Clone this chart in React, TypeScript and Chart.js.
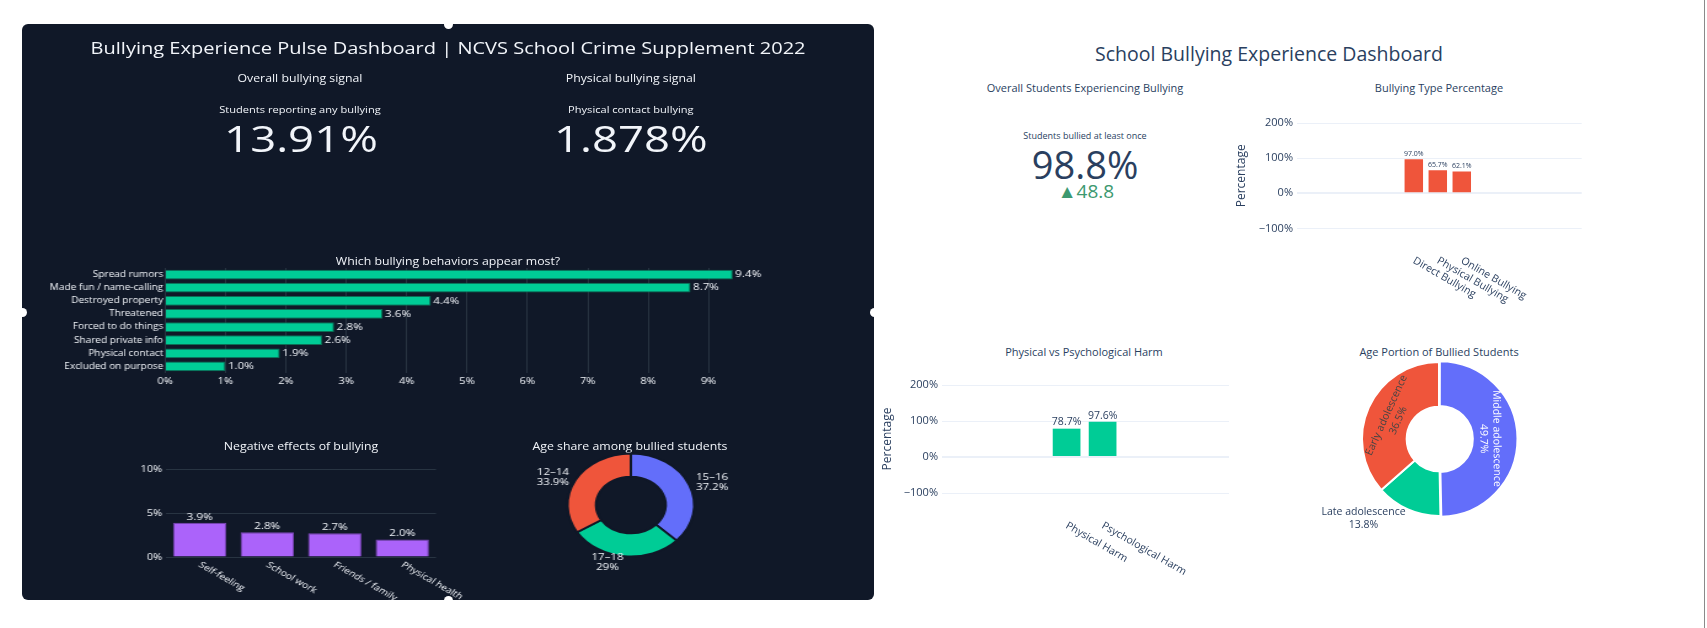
import React, { useEffect, useRef } from 'react';
import { Chart, registerables } from 'chart.js';

Chart.register(...registerables);
const FONT = "'Open Sans', sans-serif";
Chart.defaults.font.family = FONT;

// ---------------- data ----------------
const leftTitle = 'Bullying Experience Pulse Dashboard | NCVS School Crime Supplement 2022';
const anyBullyingPct = 13.91;
const physicalBullyingPct = 1.878;

const behaviorLabels = [
  'Spread rumors',
  'Made fun / name-calling',
  'Destroyed property',
  'Threatened',
  'Forced to do things',
  'Shared private info',
  'Physical contact',
  'Excluded on purpose',
];
const behaviorValues = [9.4, 8.7, 4.4, 3.6, 2.8, 2.6, 1.9, 1.0];
const behaviorTicks = [0, 1, 2, 3, 4, 5, 6, 7, 8, 9];

const effectLabels = ['Self-feeling', 'School work', 'Friends / family', 'Physical health'];
const effectValues = [3.9, 2.8, 2.7, 2.0];
const effectTicks = [0, 5, 10];

const ageShareLabels = ['15–16', '17–18', '12–14'];
const ageShareValues = [37.2, 29, 33.9];

const rightTitle = 'School Bullying Experience Dashboard';
const bulliedAtLeastOncePct = 98.8;
const bulliedDelta = 48.8;

const typeLabels = ['Direct Bullying', 'Physical Bullying', 'Online Bullying'];
const typeValues = [97.0, 65.7, 62.1];
const typeTicks = [-100, 0, 100, 200];

const harmLabels = ['Physical Harm', 'Psychological Harm'];
const harmValues = [78.7, 97.6];
const harmTicks = [-100, 0, 100, 200];

const agePortionLabels = ['Middle adolescence', 'Late adolescence', 'Early adolescence'];
const agePortionValues = [49.7, 13.8, 36.5];

// ---------------- styles ----------------
const DARK_BG = '#101828';
const DARK_TEXT = '#f2f5fa';
const DARK_GRID = '#283442';
const LIGHT_TEXT = '#2a3f5f';
const LIGHT_GRID = '#EBF0F8';
const BLUE = '#636efa';
const RED = '#ef553b';
const GREEN = '#00cc96';
const PURPLE = '#ab63fa';
const S = 1.23; // horizontal stretch of the dark panel

const pct1 = (v: number) => `${v.toFixed(1)}%`;
const setTicks = (vals: number[]) => (scale: any) => {
  scale.ticks = vals.map((v) => ({ value: v }));
};
const signedPct = (v: any) => `${Number(v) < 0 ? '−' : ''}${Math.abs(Number(v))}%`;

// ---------------- plugins ----------------
const endLabels = (values: number[], size: number, color: string, gap: number) => ({
  id: 'endLabels',
  afterDatasetsDraw(chart: any) {
    const { ctx } = chart;
    const meta = chart.getDatasetMeta(0);
    ctx.save();
    ctx.font = `${size}px ${FONT}`;
    ctx.fillStyle = color;
    ctx.textAlign = 'left';
    ctx.textBaseline = 'middle';
    meta.data.forEach((bar: any, i: number) => {
      const p = bar.getProps(['x', 'y'], true);
      ctx.fillText(pct1(values[i]), p.x + gap, p.y);
    });
    ctx.restore();
  },
});

const topLabels = (values: number[], size: number, color: string, gap: number) => ({
  id: 'topLabels',
  afterDatasetsDraw(chart: any) {
    const { ctx } = chart;
    const meta = chart.getDatasetMeta(0);
    ctx.save();
    ctx.font = `${size}px ${FONT}`;
    ctx.fillStyle = color;
    ctx.textAlign = 'center';
    ctx.textBaseline = 'bottom';
    meta.data.forEach((bar: any, i: number) => {
      const p = bar.getProps(['x', 'y'], true);
      ctx.fillText(pct1(values[i]), p.x, p.y - gap);
    });
    ctx.restore();
  },
});

const rotatedTicks = (labels: string[], angle: number, dy: number, size: number, color: string) => ({
  id: 'rotatedTicks',
  afterDraw(chart: any) {
    const { ctx, chartArea } = chart;
    const xs = chart.scales.x;
    ctx.save();
    ctx.font = `${size}px ${FONT}`;
    ctx.fillStyle = color;
    ctx.textAlign = 'left';
    ctx.textBaseline = 'middle';
    labels.forEach((l, i) => {
      ctx.save();
      ctx.translate(xs.getPixelForValue(i), chartArea.bottom + dy);
      ctx.rotate((angle * Math.PI) / 180);
      ctx.fillText(l, 0, 0);
      ctx.restore();
    });
    ctx.restore();
  },
});

const outsideLabel = (ctx: any, p: any, mid: number, lines: string[], gap: number, lh: number, dy: number) => {
  const r = p.outerRadius + gap;
  const px = p.x + Math.cos(mid) * r;
  const py = p.y + Math.sin(mid) * r + dy;
  const w = Math.max(...lines.map((l) => ctx.measureText(l).width));
  const cx = Math.cos(mid) >= 0 ? px + w / 2 : px - w / 2;
  lines.forEach((l, k) => {
    ctx.fillText(l, cx, py + (k - (lines.length - 1) / 2) * lh);
  });
};

const darkDonutLabels = {
  id: 'darkDonutLabels',
  afterDatasetsDraw(chart: any) {
    const { ctx } = chart;
    const meta = chart.getDatasetMeta(0);
    ctx.save();
    ctx.font = `9.4px ${FONT}`;
    ctx.fillStyle = DARK_TEXT;
    ctx.textAlign = 'center';
    ctx.textBaseline = 'middle';
    meta.data.forEach((arc: any, i: number) => {
      const p = arc.getProps(['x', 'y', 'startAngle', 'endAngle', 'outerRadius'], true);
      const mid = (p.startAngle + p.endAngle) / 2;
      outsideLabel(ctx, p, mid, [ageShareLabels[i], `${ageShareValues[i]}%`], 6, 9.8, 0);
    });
    ctx.restore();
  },
};

const agePortionTextPos = ['inside', 'outside', 'inside'];
const agePortionInsideColor = ['#ffffff', '#444444', '#444444'];
const lightDonutLabels = {
  id: 'lightDonutLabels',
  afterDatasetsDraw(chart: any) {
    const { ctx } = chart;
    const meta = chart.getDatasetMeta(0);
    ctx.save();
    ctx.font = `10.5px ${FONT}`;
    ctx.textAlign = 'center';
    ctx.textBaseline = 'middle';
    meta.data.forEach((arc: any, i: number) => {
      const p = arc.getProps(['x', 'y', 'startAngle', 'endAngle', 'innerRadius', 'outerRadius'], true);
      const mid = (p.startAngle + p.endAngle) / 2;
      const lines = [agePortionLabels[i], `${agePortionValues[i]}%`];
      if (agePortionTextPos[i] === 'inside') {
        const r = p.innerRadius + (p.outerRadius - p.innerRadius) * 0.42;
        let rot = mid + Math.PI / 2;
        while (rot > Math.PI / 2) rot -= Math.PI;
        while (rot < -Math.PI / 2) rot += Math.PI;
        ctx.save();
        ctx.translate(p.x + Math.cos(mid) * r, p.y + Math.sin(mid) * r);
        ctx.rotate(rot);
        ctx.fillStyle = agePortionInsideColor[i];
        lines.forEach((l, k) => ctx.fillText(l, 0, (k - 0.5) * 13));
        ctx.restore();
      } else {
        ctx.fillStyle = LIGHT_TEXT;
        outsideLabel(ctx, p, mid, lines, 6, 13, 4);
      }
    });
    ctx.restore();
  },
};

// ---------------- chart builders ----------------
const noPlugins = { legend: { display: false }, tooltip: { enabled: false }, title: { display: false } };

const buildBehaviors = (canvas: HTMLCanvasElement) =>
  new Chart(canvas, {
    type: 'bar',
    data: {
      labels: behaviorLabels,
      datasets: [
        {
          data: behaviorValues,
          backgroundColor: GREEN,
          borderColor: '#0b6f55',
          borderWidth: 1,
          barPercentage: 0.74,
          categoryPercentage: 1,
        },
      ],
    },
    options: {
      indexAxis: 'y',
      responsive: false,
      animation: false,
      layout: { padding: { left: 0, top: 8, right: 89.6, bottom: 0 } },
      plugins: noPlugins,
      scales: {
        y: {
          grid: { display: false, drawTicks: false },
          border: { display: false },
          ticks: { color: DARK_TEXT, font: { size: 8.2 }, padding: 1.5, autoSkip: false },
          afterFit: (s: any) => {
            s.width = 116.3;
          },
        },
        x: {
          min: 0,
          max: 9.9,
          afterBuildTicks: setTicks(behaviorTicks),
          grid: { color: DARK_GRID, drawTicks: false },
          border: { display: false },
          ticks: { color: DARK_TEXT, font: { size: 9 }, padding: 3, callback: (v: any) => `${v}%` },
          afterFit: (s: any) => {
            s.height = 51;
          },
        },
      },
    } as any,
    plugins: [endLabels(behaviorValues, 9.5, DARK_TEXT, 2)],
  });

const buildEffects = (canvas: HTMLCanvasElement) =>
  new Chart(canvas, {
    type: 'bar',
    data: {
      labels: effectLabels,
      datasets: [
        {
          data: effectValues,
          backgroundColor: PURPLE,
          borderColor: '#7b45b8',
          borderWidth: 1,
          barPercentage: 0.79,
          categoryPercentage: 1,
        },
      ],
    },
    options: {
      responsive: false,
      animation: false,
      layout: { padding: { left: 0, top: 9, right: 63.4, bottom: 43 } },
      plugins: noPlugins,
      scales: {
        x: { display: false },
        y: {
          min: 0,
          max: 10,
          afterBuildTicks: setTicks(effectTicks),
          grid: { color: DARK_GRID, drawTicks: false },
          border: { display: false },
          ticks: { color: DARK_TEXT, font: { size: 9 }, padding: 3, callback: (v: any) => `${v}%` },
          afterFit: (s: any) => {
            s.width = 57;
          },
        },
      },
    } as any,
    plugins: [
      topLabels(effectValues, 9.5, DARK_TEXT, 1),
      rotatedTicks(effectLabels, 35, 7, 8.5, DARK_TEXT),
    ],
  });

const buildAgeShare = (canvas: HTMLCanvasElement) =>
  new Chart(canvas, {
    type: 'doughnut',
    data: {
      labels: ageShareLabels,
      datasets: [
        {
          data: ageShareValues,
          backgroundColor: [BLUE, GREEN, RED],
          borderColor: DARK_BG,
          borderWidth: 2,
          radius: 51.5,
          cutout: '55%',
        } as any,
      ],
    },
    options: { responsive: false, animation: false, plugins: noPlugins } as any,
    plugins: [darkDonutLabels],
  });

const lightBar = (
  canvas: HTMLCanvasElement,
  values: number[],
  labels: string[],
  ticks: number[],
  color: string,
  xRange: [number, number],
  yWidth: number,
  pad: { top: number; right: number; bottom: number },
  titlePad: number,
  valueSize: number,
  valueGap: number,
  labelDy: number,
) =>
  new Chart(canvas, {
    type: 'bar',
    data: {
      datasets: [
        {
          data: values.map((v, i) => ({ x: i, y: v })),
          backgroundColor: color,
          borderWidth: 0,
          barPercentage: 0.77,
          categoryPercentage: 1,
        },
      ],
    },
    options: {
      responsive: false,
      animation: false,
      layout: { padding: { left: 0, ...pad } },
      plugins: noPlugins,
      scales: {
        x: {
          type: 'linear',
          min: xRange[0],
          max: xRange[1],
          offset: false,
          display: false,
          afterBuildTicks: setTicks(values.map((_, i) => i)),
        },
        y: {
          min: -150,
          max: 250,
          afterBuildTicks: setTicks(ticks),
          grid: {
            color: LIGHT_GRID,
            drawTicks: false,
            lineWidth: (c: any) => (c.tick && c.tick.value === 0 ? 2 : 1),
          },
          border: { display: false },
          ticks: { color: LIGHT_TEXT, font: { size: 11 }, padding: 4, callback: signedPct },
          title: {
            display: true,
            text: 'Percentage',
            color: LIGHT_TEXT,
            font: { size: 12 },
            padding: { top: titlePad, bottom: 0 },
          },
          afterFit: (s: any) => {
            s.width = yWidth;
          },
        },
      },
    } as any,
    plugins: [topLabels(values, valueSize, LIGHT_TEXT, valueGap), rotatedTicks(labels, 30, labelDy, 10.5, LIGHT_TEXT)],
  });

const buildTypes = (canvas: HTMLCanvasElement) =>
  lightBar(canvas, typeValues, typeLabels, typeTicks, RED, [-4.87, 7.0], 87, { top: 7.8, right: 18.3, bottom: 74 }, 24.5, 7, 2, 14);

const buildHarm = (canvas: HTMLCanvasElement) =>
  lightBar(canvas, harmValues, harmLabels, harmTicks, GREEN, [-3.46, 4.51], 82, { top: 12, right: 16, bottom: 84 }, 20.8, 10.5, 1, 14);

const buildAgePortion = (canvas: HTMLCanvasElement) =>
  new Chart(canvas, {
    type: 'doughnut',
    data: {
      labels: agePortionLabels,
      datasets: [
        {
          data: agePortionValues,
          backgroundColor: [BLUE, GREEN, RED],
          borderColor: '#ffffff',
          borderWidth: 2,
          radius: 77,
          cutout: '42%',
          offset: [3, 0, 0],
        } as any,
      ],
    },
    options: { responsive: false, animation: false, plugins: noPlugins } as any,
    plugins: [lightDonutLabels],
  });

// ---------------- components ----------------
function ChartCanvas(props: { left: number; top: number; width: number; height: number; build: (c: HTMLCanvasElement) => Chart }) {
  const ref = useRef<HTMLCanvasElement | null>(null);
  const { left, top, width, height, build } = props;
  useEffect(() => {
    const ch = build(ref.current as HTMLCanvasElement);
    return () => ch.destroy();
  }, []);
  const w = Math.round(width);
  const h = Math.round(height);
  return <canvas ref={ref} width={w} height={h} style={{ position: 'absolute', left, top, width: w, height: h }} />;
}

function Txt(props: { x: number; y: number; size: number; color: string; children: any }) {
  return (
    <div
      style={{
        position: 'absolute',
        left: props.x,
        top: props.y,
        transform: 'translate(-50%, -50%)',
        fontFamily: FONT,
        fontSize: props.size,
        color: props.color,
        whiteSpace: 'nowrap',
        lineHeight: 1,
      }}
    >
      {props.children}
    </div>
  );
}

const Handle = ({ x, y }: { x: number; y: number }) => (
  <div
    style={{
      position: 'absolute',
      left: x - 4.5,
      top: y - 4.5,
      width: 9,
      height: 9,
      borderRadius: '50%',
      background: '#ffffff',
    }}
  />
);

export default function App() {
  const natW = 852 / S;
  return (
    <div
      style={{
        position: 'fixed',
        left: 0,
        top: 0,
        width: 1707,
        height: 628,
        background: '#ffffff',
        overflow: 'hidden',
        fontFamily: FONT,
      }}
    >
      {/* dark panel background */}
      <div style={{ position: 'absolute', left: 22, top: 24, width: 852, height: 576, background: DARK_BG, borderRadius: 6 }} />
      {/* dark panel content, drawn stretched horizontally */}
      <div
        style={{
          position: 'absolute',
          left: 22,
          top: 24,
          width: natW,
          height: 576,
          transform: `scaleX(${S})`,
          transformOrigin: '0 0',
        }}
      >
        <Txt x={346.4} y={23.5} size={16.3} color={DARK_TEXT}>{leftTitle}</Txt>
        <Txt x={226} y={53.5} size={10} color={DARK_TEXT}>Overall bullying signal</Txt>
        <Txt x={495} y={53.5} size={10} color={DARK_TEXT}>Physical bullying signal</Txt>
        <Txt x={226} y={85} size={9} color={DARK_TEXT}>Students reporting any bullying</Txt>
        <Txt x={495} y={85} size={9} color={DARK_TEXT}>Physical contact bullying</Txt>
        <Txt x={226.8} y={113} size={37} color={DARK_TEXT}>{`${anyBullyingPct.toFixed(2)}%`}</Txt>
        <Txt x={495} y={113} size={37} color={DARK_TEXT}>{`${physicalBullyingPct.toFixed(3)}%`}</Txt>
        <Txt x={346.3} y={237} size={10} color={DARK_TEXT}>Which bullying behaviors appear most?</Txt>
        <Txt x={226.8} y={422} size={10} color={DARK_TEXT}>Negative effects of bullying</Txt>
        <Txt x={494.3} y={422} size={10} color={DARK_TEXT}>Age share among bullied students</Txt>
        <ChartCanvas left={0} top={236} width={692} height={164} build={buildBehaviors} />
        <ChartCanvas left={60} top={436} width={340} height={140} build={buildEffects} />
        <ChartCanvas left={395} top={406} width={200} height={150} build={buildAgeShare} />
      </div>
      <Handle x={448} y={24} />
      <Handle x={22} y={312} />
      <Handle x={874} y={312} />
      <Handle x={448} y={600} />

      {/* right (light) dashboard */}
      <Txt x={1269} y={54} size={19.5} color={LIGHT_TEXT}>{rightTitle}</Txt>
      <Txt x={1085} y={87} size={11} color={LIGHT_TEXT}>Overall Students Experiencing Bullying</Txt>
      <Txt x={1439} y={87} size={11} color={LIGHT_TEXT}>Bullying Type Percentage</Txt>
      <Txt x={1085} y={135} size={9} color={LIGHT_TEXT}>Students bullied at least once</Txt>
      <Txt x={1085} y={164} size={38} color={LIGHT_TEXT}>{`${bulliedAtLeastOncePct.toFixed(1)}%`}</Txt>
      <Txt x={1086} y={191} size={19} color="#3D9970">{`▲${bulliedDelta.toFixed(1)}`}</Txt>
      <Txt x={1084} y={351} size={11} color={LIGHT_TEXT}>Physical vs Psychological Harm</Txt>
      <Txt x={1439} y={351} size={11} color={LIGHT_TEXT}>Age Portion of Bullied Students</Txt>
      <ChartCanvas left={1210} top={95} width={390} height={225} build={buildTypes} />
      <ChartCanvas left={860} top={355} width={385} height={240} build={buildHarm} />
      <ChartCanvas left={1309} top={340} width={260} height={198} build={buildAgePortion} />
      <div style={{ position: 'absolute', left: 1704, top: 0, width: 1, height: 628, background: '#8a8a8a' }} />
    </div>
  );
}
